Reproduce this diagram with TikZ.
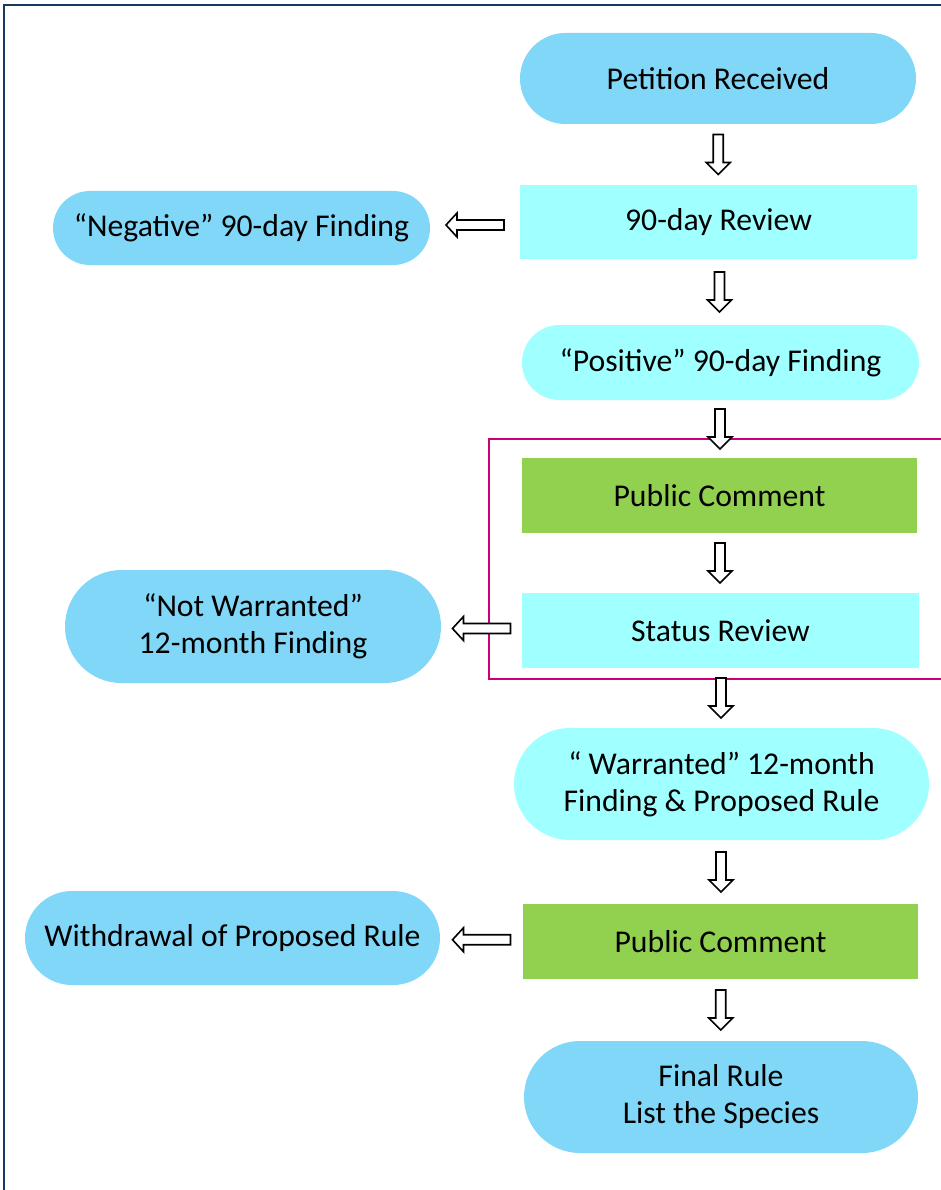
\documentclass[tikz,border=0pt]{standalone}
\usepackage{fontspec}
\setmainfont{Carlito}
\usetikzlibrary{shapes.misc,calc}
\definecolor{lblue}{RGB}{128,215,247}
\definecolor{lcyan}{RGB}{160,255,255}
\definecolor{lgreen}{RGB}{146,208,80}
\definecolor{frameblue}{RGB}{25,58,96}
\definecolor{magbox}{RGB}{204,0,120}
\tikzset{
  base/.style={inner sep=0pt, align=center, font=\fontsize{31.7}{37}\selectfont, text=black},
  stad/.style={base, rounded rectangle, draw=none},
  boxr/.style={base, rectangle, draw=none},
  arrline/.style={draw=black, fill=white, line width=1.6pt, line join=miter},
  darr/.pic={\path[arrline] (-5,-20) -- (5,-20) -- (5,8) -- (12,8) -- (0,20) -- (-12,8) -- (-5,8) -- cycle;},
  larr/.pic={\path[arrline] (29,-5) -- (29,5) -- (-18,5) -- (-18,12) -- (-29,0) -- (-18,-12) -- (-18,-5) -- cycle;}
}
\begin{document}
\begin{tikzpicture}[x=1pt,y=-1pt]
\useasboundingbox (0,0) rectangle (940,1190);
\draw[frameblue, line width=2pt] (4,1192) -- (4,5) -- (942,5);
% nodes
\node[stad, fill=lblue, minimum width=396, minimum height=91] (pet) at (718,78.5) {Petition Received};
\node[boxr, fill=lcyan, minimum width=397, minimum height=74] (rev) at (718.5,222) {90-day Review};
\node[stad, fill=lblue, minimum width=377, minimum height=74] (neg) at (241.5,228) {“Negative” 90-day Finding};
\node[stad, fill=lcyan, minimum width=397, minimum height=75] (pos) at (720.5,362.5) {“Positive” 90-day Finding};
\node[boxr, fill=lgreen, minimum width=395, minimum height=75] (pca) at (719.5,495.5) {Public Comment};
\node[boxr, fill=lcyan, minimum width=397, minimum height=75] (sr) at (720.5,630.5) {Status Review};
\node[stad, fill=lblue, minimum width=376, minimum height=113] (notw) at (253,626.5) {“Not Warranted”\\12-month Finding};
\node[stad, fill=lcyan, minimum width=415, minimum height=112] (war) at (721.5,784) {“ Warranted” 12-month\\Finding \& Proposed Rule};
\node[boxr, fill=lgreen, minimum width=395, minimum height=75] (pcb) at (720.5,941.5) {Public Comment};
\node[stad, fill=lblue, minimum width=415, minimum height=94] (wd) at (232.5,938) {Withdrawal of Proposed Rule};
\node[stad, fill=lblue, minimum width=394, minimum height=112] (fin) at (721,1097) {Final Rule\\List the Species};
% magenta frame
\draw[magbox, line width=1.5pt] (945,439) -- (489,439) -- (489,679) -- (945,679);
% connectors
\pic at ($(pet.south)!0.5!(rev.north)$) {darr};
\pic at ($(rev.south)!0.5!(pos.north)$) {darr};
\pic at ($(pos.south)!0.5!(pca.north)$) {darr};
\pic at ($(pca.south)!0.5!(sr.north)$) {darr};
\pic at ($(sr.south)!0.5!(war.north)$) {darr};
\pic at ($(war.south)!0.5!(pcb.north)$) {darr};
\pic at ($(pcb.south)!0.5!(fin.north)$) {darr};
\pic at ($(rev.west)!0.5!(neg.east)$) {larr};
\pic at ($(sr.west)!0.5!(notw.east)$) {larr};
\pic at ($(pcb.west)!0.5!(wd.east)$) {larr};
\end{tikzpicture}
\end{document}
